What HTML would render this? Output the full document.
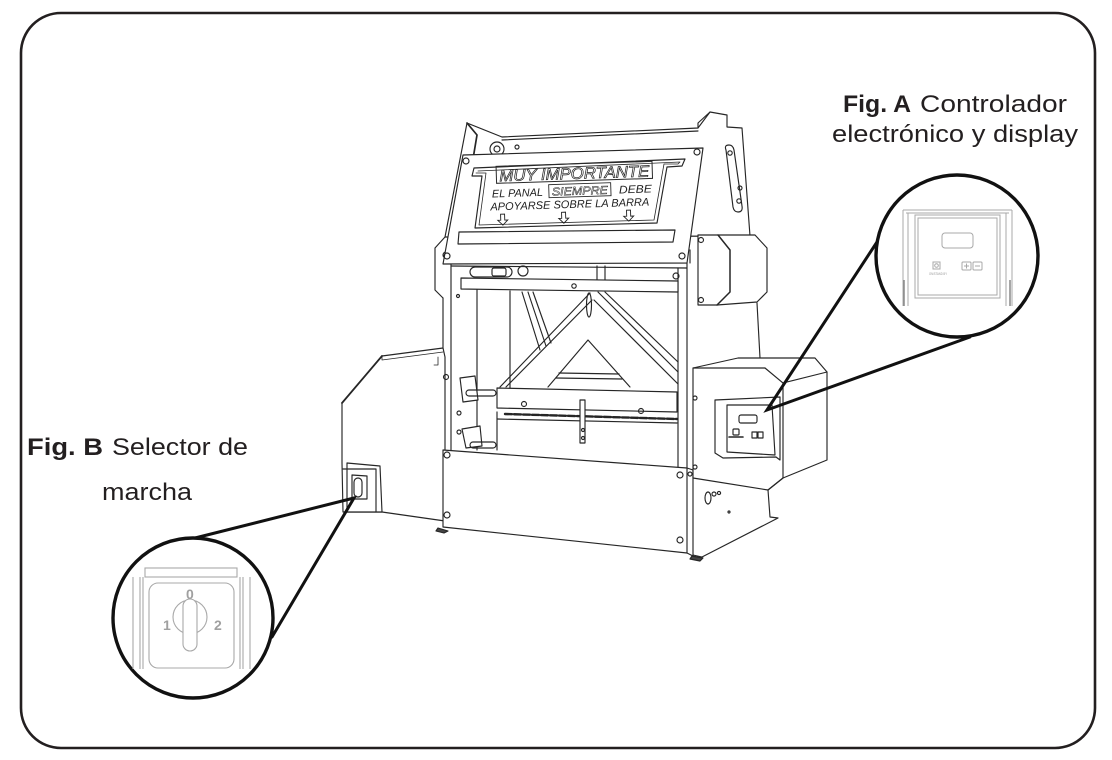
<!DOCTYPE html>
<html><head><meta charset="utf-8">
<style>
html,body{margin:0;padding:0;background:#fff;}
body{width:1112px;height:760px;overflow:hidden;}
svg{display:block;}
</style></head><body>
<svg width="1112" height="760" viewBox="0 0 1112 760" xmlns="http://www.w3.org/2000/svg">
<rect x="21" y="13" width="1074" height="735" rx="40" ry="40" fill="none" stroke="#231f20" stroke-width="2.6"/>

<!-- ================= MACHINE ================= -->
<g fill="none" stroke="#262626" stroke-width="1.15" stroke-linejoin="round" stroke-linecap="round">
  <!-- back plate -->
  <path d="M467,123 L502,137 L698,128 L710,112 L727,115 L727,127 L742,128 L750,236 L445,237 Z" fill="#fff"/>
  <path d="M502,140 L698,131"/>
  <path d="M698,128 L698,123 L710,112"/>
  <path d="M467,123 L477,135 L472,165" stroke-width="1.7"/>
  <circle cx="497" cy="149" r="7"/><circle cx="497" cy="149" r="3"/>
  <circle cx="517" cy="147" r="2"/>
  <!-- slot on right upright -->
  <path d="M726,150 Q724,145 729,145 Q733,145 734,150 L742,206 Q743,212 738,212 Q734,212 733,207 Z"/>
  <circle cx="730" cy="153" r="2.2"/><circle cx="740" cy="188" r="2"/><circle cx="739" cy="201" r="2.2"/>

  <!-- left hex bracket -->
  <path d="M445,237 L435,248 L435,290 L443,298" fill="#fff"/>
  <circle cx="446" cy="255" r="3"/>
  <path d="M443,298 L443,357"/>
  <path d="M451,262 L451,450"/>

  <!-- left box -->
  <path d="M443,348 L382,356 L342,403 L342,463 L343,512 L382,512 L445,521 L445,357 Z" fill="#fff"/>
  <path d="M382,356 L342,403" stroke-width="1.8"/>
  <path d="M382,356 L382,360 L443,352" stroke-width="0.8"/>
  <path d="M438,357 L438,365 L434,365" stroke-width="0.8"/>
  <circle cx="446" cy="377" r="2.5"/>
  <!-- switch housing -->
  <path d="M347,463 L380,466 L382,512 L347,512 Z" fill="#fff"/>
  <path d="M343,469 L376,469 L376,512"/>
  <path d="M352,475 L367,476 L367,499 L352,499 Z"/>
  <rect x="354" y="478" width="8" height="19" rx="4"/>

  <!-- inner frame area -->
  <path d="M451,266 L687,268" />
  <path d="M687,263 L687,470"/>
  <path d="M678,268 L678,470"/>
  <!-- gripper -->
  <rect x="470" y="267" width="42" height="10" rx="5"/>
  <rect x="492" y="268" width="14" height="8" rx="2"/>
  <circle cx="523" cy="271" r="5"/>
  <circle cx="676" cy="276" r="3"/>
  <!-- verticals top -->
  <path d="M597,266 L597,280 M605,266 L605,280"/>
  <!-- crossbar -->
  <path d="M461,278 L678,281 L678,292 L461,289 Z" fill="#fff"/>
  <circle cx="574" cy="286" r="2.2"/>
  <circle cx="458" cy="296" r="1.5"/>
  <!-- guides below crossbar -->
  <path d="M477,290 L477,450 M510,291 L510,395"/>
  <path d="M522,292 L540,350 M528,292 L546,346 M533,292 L551,343"/>
  <!-- A-frame triangle -->
  <path d="M500,387 L590,293 M506,387 L592,300"/>
  <path d="M598,292 L678,372 M594,300 L678,384 M605,292 L678,362"/>
  <path d="M548,387 L588,340 L630,387"/>
  <path d="M556,378 L622,379"/>
  <path d="M559,373 L619,374"/>
  <ellipse cx="589" cy="305" rx="2.5" ry="12"/>
  <!-- blade bar -->
  <path d="M497,388 L677,392 L677,412 L497,408 Z" fill="#fff"/>
  <circle cx="524" cy="404" r="2.5"/><circle cx="641" cy="411" r="2.5"/>
  <path d="M505,414 L677,419" stroke-width="2.4" stroke-dasharray="7,2"/>
  <path d="M497,419 L677,423"/>
  <path d="M497,412 L497,450"/>
  <!-- lever pieces -->
  <path d="M460,378 L475,376 L478,400 L463,402 Z" fill="#fff"/>
  <rect x="466" y="390" width="30" height="6" rx="3"/>
  <path d="M462,429 L480,426 L482,446 L466,448 Z" fill="#fff"/>
  <rect x="470" y="442" width="26" height="6" rx="3"/>
  <circle cx="459" cy="413" r="2"/><circle cx="459" cy="432" r="2"/>
  <!-- knife -->
  <path d="M580,400 L585,400 L585,443 L580,443 Z" fill="#fff"/>
  <circle cx="583" cy="430" r="1.5"/><circle cx="583" cy="438" r="1.5"/>

  <!-- lower front panel -->
  <path d="M443,450 L687,468 L687,553 L443,527 Z" fill="#fff"/>
  <circle cx="447" cy="455" r="3"/><circle cx="447" cy="515" r="3"/>
  <circle cx="680" cy="475" r="3"/><circle cx="680" cy="540" r="3"/>
  <path d="M438,528 L448,531 L444,533 L436,531 Z" fill="#444"/>
  <path d="M692,556 L703,558 L700,561 L690,559 Z" fill="#444"/>

  <!-- right side strip -->
  <path d="M687,468 L693,470 L693,556 L687,553"/>
  <circle cx="690" cy="474" r="2"/>

  <!-- right motor box -->
  <path d="M698,235 L755,235 L767,248 L767,292 L757,302 L717,305 L698,305 Z" fill="#fff"/>
  <path d="M718,235 L730,250 L730,292 L717,305" stroke-width="1.5"/>
  <circle cx="701" cy="240" r="2.5"/><circle cx="701" cy="300" r="2.5"/>
  <path d="M757,303 L760,358"/>
  <path d="M690,250 L690,263" />

  <!-- controller box -->
  <path d="M693,368 L738,358 L815,358 L827,372 L827,460 L783,478 L768,490 L693,478 Z" fill="#fff"/>
  <path d="M765,368 L693,368"/>
  <path d="M765,368 L783,383 L827,372"/>
  <path d="M783,383 L783,478"/>
  <path d="M768,490 L783,478" />
  <circle cx="695" cy="398" r="2"/><circle cx="695" cy="467" r="2"/>
  <!-- controller panel -->
  <path d="M715,400 L780,397 L780,460 L776,457 L723,458 L715,453 Z" fill="#fff"/>
  <path d="M727,405 L772,405 L775,455 L727,452 Z"/>
  <rect x="739" y="415" width="18" height="8" rx="2"/>
  <rect x="733" y="429" width="6" height="6" rx="1"/>
  <path d="M729,437 L743,437" stroke-width="1.6"/>
  <rect x="752" y="432" width="5" height="6"/><rect x="758" y="432" width="5" height="6"/>
  <!-- stand -->
  <path d="M768,490 L770,517 L778,518 L702,557 L693,555"/>
  <ellipse cx="708" cy="498" rx="3" ry="6"/>
  <circle cx="714" cy="494" r="2"/><circle cx="719" cy="493" r="1.6"/>
  <circle cx="729" cy="512" r="1"/>

  <!-- SIGN PANEL -->
  <path d="M463,155 L703,148 L687,263 L443,264 Z" fill="#fff"/>
  <circle cx="466" cy="161" r="3"/><circle cx="697" cy="152" r="3"/>
  <circle cx="447" cy="256" r="3"/><circle cx="682" cy="256" r="3"/>
  <!-- T outline -->
  <path d="M474,168 L685,159 L682,166 L667,167 L657,223 L475,228 L482,176 L472,176 Z"/>
  <path d="M478,171 L680,162 L678,164 L664,164 L654,220 L479,225 L486,173 L476,173" stroke-width="0.8"/>
  <!-- bottom strip -->
  <path d="M459,232 L675,230 L673,242 L458,244 Z"/>
</g>

<!-- sign texts -->
<g transform="rotate(-1.8 570 195)" font-family="'Liberation Sans', sans-serif" font-style="italic">
  <rect x="497" y="164" width="156" height="17" fill="none" stroke="#2a2a2a" stroke-width="1"/>
  <text x="500" y="179" font-size="16" textLength="150" lengthAdjust="spacingAndGlyphs" fill="#fff" stroke="#222" stroke-width="0.7">MUY IMPORTANTE</text>
  <text x="492" y="195" font-size="11" textLength="51" lengthAdjust="spacingAndGlyphs" fill="#222">EL PANAL</text>
  <rect x="549" y="184" width="62" height="13" fill="none" stroke="#2a2a2a" stroke-width="0.9"/>
  <text x="552" y="195" font-size="11.5" textLength="56" lengthAdjust="spacingAndGlyphs" fill="#fff" stroke="#222" stroke-width="0.5">SIEMPRE</text>
  <text x="619" y="195" font-size="11" textLength="33" lengthAdjust="spacingAndGlyphs" fill="#222">DEBE</text>
  <text x="490" y="208" font-size="11" textLength="159" lengthAdjust="spacingAndGlyphs" fill="#222">APOYARSE SOBRE LA BARRA</text>
  <g fill="none" stroke="#222" stroke-width="0.9">
    <path d="M500,212 L504,212 L504,218 L507,218 L502,223 L497,218 L500,218 Z"/>
    <path d="M561,212 L565,212 L565,218 L568,218 L563,223 L558,218 L561,218 Z"/>
    <path d="M626,212 L630,212 L630,218 L633,218 L628,223 L623,218 L626,218 Z"/>
  </g>
</g>

<!-- ================= POINTER LINES ================= -->
<g stroke="#111" stroke-width="3" fill="none" stroke-linecap="round">
  <path d="M877,242 L767,410 L970,337"/>
  <path d="M187,540 L354,498 L272,637"/>
</g>

<!-- ================= CIRCLE A ================= -->
<circle cx="957" cy="256" r="81" fill="#fff" stroke="#111" stroke-width="3.4"/>
<g fill="none" stroke="#a8a8a8" stroke-width="1">
  <path d="M903,210 L1012,210 M906,213 L1009,213"/>
  <path d="M903,210 L903,306 M908,213 L908,306"/>
  <path d="M1012,210 L1012,306 M1006,213 L1006,306"/>
  <path d="M904,280 L904,306 M1010,280 L1010,306" stroke="#888" stroke-width="1.5"/>
  <rect x="915" y="215" width="85" height="83"/>
  <rect x="918" y="218" width="79" height="77"/>
  <rect x="942" y="233" width="31" height="15" rx="3"/>
  <rect x="933" y="262" width="7" height="7"/>
  <circle cx="936.5" cy="265.5" r="1.8"/>
  <rect x="962" y="262" width="9" height="8" rx="1"/>
  <rect x="973" y="262" width="9" height="8" rx="1"/>
  <path d="M964,266 L969,266 M966.5,263.5 L966.5,268.5 M975,266 L980,266"/>
</g>
<text x="929" y="275" font-family="'Liberation Sans', sans-serif" font-size="3.5" fill="#999" textLength="18" lengthAdjust="spacingAndGlyphs">ON/STAND BY</text>

<!-- ================= CIRCLE B ================= -->
<circle cx="193" cy="618" r="80" fill="#fff" stroke="#111" stroke-width="3.4"/>
<g fill="none" stroke="#a8a8a8" stroke-width="1.1">
  <rect x="145" y="568" width="92" height="9"/>
  <path d="M133,577 L133,669 M143,577 L143,669 M140,577 L140,669"/>
  <path d="M240,577 L240,669 M250,577 L250,669 M243,577 L243,669"/>
  <rect x="149" y="583" width="85" height="85" rx="9"/>
  <circle cx="190" cy="617" r="17"/>
  <rect x="183" y="599" width="14" height="52" rx="7" fill="#fff"/>
</g>
<g font-family="'Liberation Sans', sans-serif" font-weight="bold" font-size="14" fill="#a0a0a0">
  <text x="186" y="599">0</text>
  <text x="163" y="630">1</text>
  <text x="214" y="630">2</text>
</g>

<!-- ================= LABELS ================= -->
<g font-family="'Liberation Sans', sans-serif" font-size="24" fill="#231f20">
  <text x="843" y="112" font-weight="bold" textLength="68" lengthAdjust="spacingAndGlyphs">Fig. A</text>
  <text x="920" y="112" textLength="147" lengthAdjust="spacingAndGlyphs">Controlador</text>
  <text x="832" y="142" textLength="246" lengthAdjust="spacingAndGlyphs">electrónico y display</text>
  <text x="27" y="455" font-weight="bold" textLength="76" lengthAdjust="spacingAndGlyphs">Fig. B</text>
  <text x="112" y="455" textLength="136" lengthAdjust="spacingAndGlyphs">Selector de</text>
  <text x="102" y="500" textLength="90" lengthAdjust="spacingAndGlyphs">marcha</text>
</g>
</svg>
</body></html>
